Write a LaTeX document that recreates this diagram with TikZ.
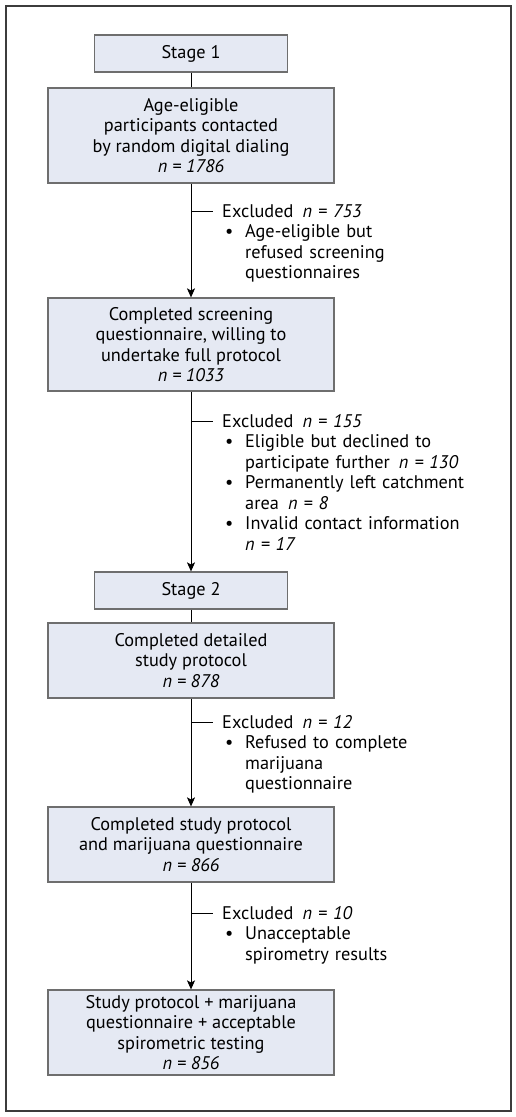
\documentclass[tikz,border=0pt]{standalone}
\usepackage{fontspec}
\setmainfont{PT Sans}
\usetikzlibrary{arrows.meta, positioning, calc}
\definecolor{boxfill}{RGB}{229,233,243}
\definecolor{boxdraw}{RGB}{110,110,110}
\definecolor{framedraw}{RGB}{60,60,60}
\newcommand{\bul}{\makebox[23pt][l]{\hspace{3pt}\textbullet}}
\newcommand{\ind}{\hspace*{23pt}}
\newcommand{\nval}[1]{\textit{n = #1}}

\begin{document}
\begin{tikzpicture}[
	x=1pt, y=-1pt,
	stagebox/.style={rectangle, draw=boxdraw, fill=boxfill, line width=1.2pt, minimum width=193pt, minimum height=37pt, inner sep=0pt, align=center},
	flowbox/.style={stagebox, minimum width=286pt},
	excl/.style={anchor=base west, inner sep=0pt, text width=280pt, align=left},
	every node/.style={font=\fontsize{18.3}{20.5}\selectfont},
	>={Stealth[length=9pt, width=8pt, inset=2pt]}
	]
	
	% page and outer frame
	\useasboundingbox (0,0) rectangle (516,1117);
	\draw[framedraw, line width=1.5pt] (6,6) rectangle (511,1111);
	
	% Stage 1
	\node[stagebox] (stage_1) at (191,53.5) {Stage 1};
	\node[flowbox, minimum height=95pt] (contacted) at (191,135.5)
		{Age-eligible\\participants contacted\\by random digital dialing\\\nval{1786}};
	\node[flowbox, minimum height=93pt] (screened) at (191,344.5)
		{Completed screening\\questionnaire, willing to\\undertake full protocol\\\nval{1033}};
	
	% Stage 2
	\node[stagebox] (stage_2) at (191,590.5) {Stage 2};
	\node[flowbox, minimum height=75pt] (protocol) at (191,660.5)
		{Completed detailed\\study protocol\\\nval{878}};
	\node[flowbox, minimum height=75pt] (questionnaire) at (191,844.5)
		{Completed study protocol\\and marijuana questionnaire\\\nval{866}};
	\node[flowbox, minimum height=85pt] (spirometry) at (191,1032.5)
		{Study protocol + marijuana\\questionnaire + acceptable\\spirometric testing\\\nval{856}};
	
	% main flow
	\draw[line width=1pt] (stage_1) -- (contacted);
	\draw[->, line width=1pt] (contacted) -- (screened);
	\draw[->, line width=1pt] (screened) -- (stage_2);
	\draw[line width=1pt] (stage_2) -- (protocol);
	\draw[->, line width=1pt] (protocol) -- (questionnaire);
	\draw[->, line width=1pt] (questionnaire) -- (spirometry);
	
	% exclusions branching off the flow
	\coordinate (branch_1) at (191,211);
	\coordinate (branch_2) at (191,421);
	\coordinate (branch_3) at (191,722);
	\coordinate (branch_4) at (191,913);
	\draw[line width=0.8pt] (branch_1) -- ++(22,0);
	\draw[line width=0.8pt] (branch_2) -- ++(22,0);
	\draw[line width=0.8pt] (branch_3) -- ++(22,0);
	\draw[line width=0.8pt] (branch_4) -- ++(22,0);
	
	\node[excl] (excluded_1) at (222,217)
		{Excluded\enspace\nval{753}\\\bul Age-eligible but\\\ind refused screening\\\ind questionnaires};
	\node[excl] (excluded_2) at (222,427)
		{Excluded\enspace\nval{155}\\\bul Eligible but declined to\\\ind participate further\enspace\nval{130}\\\bul Permanently left catchment\\\ind area\enspace\nval{8}\\\bul Invalid contact information\\\ind\nval{17}};
	\node[excl] (excluded_3) at (222,728)
		{Excluded\enspace\nval{12}\\\bul Refused to complete\\\ind marijuana\\\ind questionnaire};
	\node[excl] (excluded_4) at (222,919)
		{Excluded\enspace\nval{10}\\\bul Unacceptable\\\ind spirometry results};
	
\end{tikzpicture}
\end{document}
